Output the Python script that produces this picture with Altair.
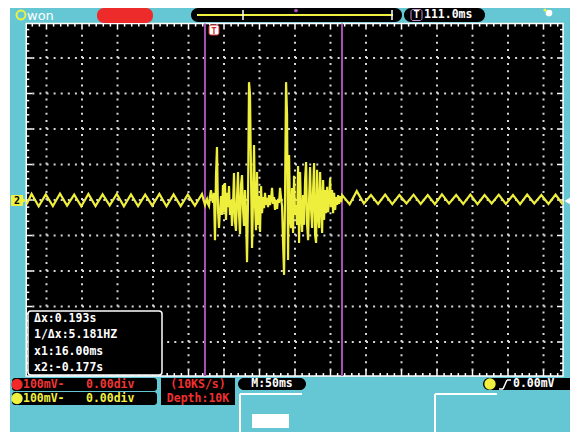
import altair as alt
import pandas as pd

# ---------------- values ----------------
# CH2 trace: time in ms (0 = centre of screen, 50 ms/div), voltage in mV (100 mV/div)
pre_t = [-378, -371, -361, -351, -341, -331, -321, -311, -301, -291, -281, -271, -261,
         -251, -241, -231, -221, -211, -201, -191, -181, -171, -161, -151, -141, -131]
pre_mv = [-12, 17, -18, 16, -17, 18, -16, 15, -18, 17, -17, 16, -15,
          17, -18, 16, -17, 15, -16, 17, -18, 16, -17, 15, -16, 17]

# the event between the two cursors, one displayed sample every 1.41 ms
burst_t0 = -126.8
burst_dt = 1.41
burst_mv = [
    -14, -3, 3, -11, -17, 11, 28, 6, -8, 20,
    -113, 68, 149, -28, -79, -28, 11, -42, 42, -34,
    48, -56, 20, -20, 39, -42, 0, -73, -14, 76,
    -62, -87, 6, 79, -39, -96, 42, 70, -25, -73,
    28, -39, -175, 0, 332, 296, 70, -135, 0, 155,
    -14, -85, 79, -70, 11, -90, 39, -37, 8, -23,
    20, -14, 6, -20, 14, -14, 3, 34, -11, 8,
    -28, 0, -25, 3, -8, 34, 6, -17, -121, -211,
    14, 332, 240, -169, 127, -51, -79, 34, -93, 68,
    -42, -14, -70, 96, -121, 79, -42, -90, 14, -70,
    56, 107, -68, -113, 0, 93, -28, -79, 28, 104,
    -99, -121, 85, -42, -79, 79, -14, -93, 56, -56,
    28, -37, 37, -34, 0, 62, -20, 28, -37, 20,
    -28, 8, -14, 14, -11, 11, -6, 14,
]

post_t = [77, 87, 97, 107, 117, 127, 137, 147, 157, 167, 177, 187, 197, 207, 217, 227,
          237, 247, 257, 267, 277, 287, 297, 307, 317, 327, 337, 347, 357, 367, 377]
post_mv = [-12, 25, -10, 14, -11, 15, -12, 14, -10, 15, -11, 14, -12, 16, -10, 14,
           -11, 15, -12, 14, -10, 15, -11, 14, -12, 15, -10, 14, -11, 15, -12]

cursor_t = [-126.8, 66.2]
grid_t = [-350, -300, -250, -200, -150, -100, -50, 0, 50, 100, 150, 200, 250, 300, 350]
grid_mv = [-400, -300, -200, -100, 0, 100, 200, 300, 400]

readout = ["Δx:0.193s", "1/Δx:5.181HZ", "x1:16.00ms", "x2:-0.177s"]
ch1_text = ["100mV-", "0.00div"]
ch2_text = ["100mV-", "0.00div"]
acq_text = ["(10KS/s)", "Depth:10K"]
timebase_text = "M:50ms"
trig_level_text = "0.00mV"
delay_text = "111.0ms"

# ---------------- layout / style ----------------
CYAN = "#64C7D3"
YELLOW = "#F0F040"
TRACE = "#EEEE3C"
RED = "#EE2B2B"
PURPLE = "#A650B8"
GRID = "#D6D6D6"
MONO = "DejaVu Sans Mono"

W, H = 562, 424
MS_PX = 50 / 35.5
MV_PX = 100 / 35.5
X_DOMAIN = [-287 * MS_PX, (W - 287) * MS_PX]
Y_DOMAIN = [-(H - 192) * MV_PX, 192 * MV_PX]
SCREEN_T = (-378.5, 377.5)
SCREEN_V = (-496.0, 497.0)

xs = alt.Scale(domain=X_DOMAIN, nice=False, zero=False)
ys = alt.Scale(domain=Y_DOMAIN, nice=False, zero=False)


def X(f):
    return alt.X(f, type="quantitative", scale=xs, axis=None)


def Y(f):
    return alt.Y(f, type="quantitative", scale=ys, axis=None)


one = pd.DataFrame({"k": [0]})


def box(x1, y1, x2, y2, fill, r=0, stroke=None, sw=1.0):
    kw = dict(fill=fill, cornerRadius=r)
    if stroke:
        kw.update(stroke=stroke, strokeWidth=sw)
    return alt.Chart(one).mark_rect(**kw).encode(
        x=alt.value(x1 - 8), x2=alt.value(x2 - 8), y=alt.value(y1 - 8), y2=alt.value(y2 - 8))


def outline(x1, y1, x2, y2, stroke, r=0, sw=1.0):
    return alt.Chart(one).mark_rect(fill="black", fillOpacity=0, stroke=stroke, strokeWidth=sw,
                                    cornerRadius=r).encode(
        x=alt.value(x1 - 8), x2=alt.value(x2 - 8), y=alt.value(y1 - 8), y2=alt.value(y2 - 8))


def seg(x1, y1, x2, y2, color, sw=1.5):
    return alt.Chart(one).mark_rule(color=color, strokeWidth=sw).encode(
        x=alt.value(x1 - 8), x2=alt.value(x2 - 8), y=alt.value(y1 - 8), y2=alt.value(y2 - 8))


def txt(s, x, y, color, size=11.5, align="left", weight="bold", font=MONO):
    return alt.Chart(one).mark_text(text=s, align=align, baseline="middle", font=font,
                                    fontSize=size, fontWeight=weight, color=color).encode(
        x=alt.value(x - 8), y=alt.value(y - 8))


def dot(x, y, color, size=120, shape="circle", filled=True, sw=1.0):
    kw = dict(shape=shape, size=size, opacity=1, filled=filled, color=color)
    if not filled:
        kw.update(strokeWidth=sw)
    return alt.Chart(one).mark_point(**kw).encode(x=alt.value(x - 8), y=alt.value(y - 8))


layers = []

# white strip at the far left
layers.append(box(8, 8, 10, 432, "white"))

# ---- screen ----
screen = pd.DataFrame({"t0": [SCREEN_T[0]], "t1": [SCREEN_T[1]], "v0": [SCREEN_V[0]], "v1": [SCREEN_V[1]]})
layers.append(alt.Chart(screen).mark_rect(color="black").encode(
    x=X("t0"), x2="t1", y=Y("v0"), y2="v1"))

# dotted graticule
gv = pd.DataFrame({"t": grid_t, "a": -480, "b": 480})
layers.append(alt.Chart(gv).mark_rule(color=GRID, strokeWidth=2, strokeDash=[2, 5.1]).encode(
    x=X("t"), y=Y("a"), y2="b"))
gh = pd.DataFrame({"v": grid_mv, "a": -370, "b": 370})
layers.append(alt.Chart(gh).mark_rule(color=GRID, strokeWidth=2, strokeDash=[2, 5.1]).encode(
    y=Y("v"), x=X("a"), x2="b"))

# edge ticks
minor_t = list(range(-370, 371, 10))
minor_v = list(range(-480, 481, 20))


def tl(val, major):
    return 6 if val % major == 0 else 3


top = pd.DataFrame({"t": minor_t, "a": SCREEN_V[1],
                    "b": [SCREEN_V[1] - tl(t, 50) * MV_PX for t in minor_t]})
bot = pd.DataFrame({"t": minor_t, "a": SCREEN_V[0],
                    "b": [SCREEN_V[0] + tl(t, 50) * MV_PX for t in minor_t]})
lef = pd.DataFrame({"v": minor_v, "a": SCREEN_T[0],
                    "b": [SCREEN_T[0] + tl(v, 100) * MS_PX for v in minor_v]})
rig = pd.DataFrame({"v": minor_v, "a": SCREEN_T[1],
                    "b": [SCREEN_T[1] - tl(v, 100) * MS_PX for v in minor_v]})
for d in (top, bot):
    layers.append(alt.Chart(d).mark_rule(color="white", strokeWidth=1.5).encode(
        x=X("t"), y=Y("a"), y2="b"))
for d in (lef, rig):
    layers.append(alt.Chart(d).mark_rule(color="white", strokeWidth=1.5).encode(
        y=Y("v"), x=X("a"), x2="b"))

# screen border
layers.append(alt.Chart(screen).mark_rect(fill="black", fillOpacity=0, stroke="white", strokeWidth=1.5).encode(
    x=X("t0"), x2="t1", y=Y("v0"), y2="v1"))

# cursors
cur = pd.DataFrame({"t": cursor_t, "a": SCREEN_V[0], "b": SCREEN_V[1]})
layers.append(alt.Chart(cur).mark_rule(color=PURPLE, strokeWidth=2).encode(
    x=X("t"), y=Y("a"), y2="b"))

# waveform
burst_t = [round(burst_t0 + i * burst_dt, 2) for i in range(len(burst_mv))]
wave = pd.DataFrame({"t": pre_t + burst_t + post_t, "mv": pre_mv + burst_mv + post_mv})
layers.append(alt.Chart(wave).mark_line(color=TRACE, strokeWidth=2.2, strokeJoin="miter").encode(
    x=X("t"), y=Y("mv")))

# trigger-position marker on the top of the screen
layers.append(box(209, 25, 219, 35, "white", r=2, stroke="#D03030", sw=1))
layers.append(txt("T", 214, 30.5, "#D03030", size=9, align="center"))

# cursor read-out box
layers.append(box(28, 311, 162, 375, "black", r=3, stroke="white", sw=1.5))
for i, s in enumerate(readout):
    layers.append(txt(s, 34, [319, 335, 352, 368][i], "white"))

# ---- top bar ----
layers.append(dot(21, 15, YELLOW, size=80, filled=False, sw=2))
layers.append(txt("won", 27, 16, "white", size=13, weight="normal", font="DejaVu Sans"))
layers.append(box(97, 8, 153, 23, RED, r=7))
layers.append(box(191, 8, 402, 22, "black", r=7))
layers.append(seg(197, 15, 393, 15, YELLOW, 2))
layers.append(seg(243, 10, 243, 20, "white", 1.5))
layers.append(seg(392, 10, 392, 20, "white", 1.5))
layers.append(dot(296, 10.5, PURPLE, size=14))
layers.append(box(404, 8, 485, 22, "black", r=7))
layers.append(outline(411, 9.5, 422, 20.5, "#C98AD8", r=2, sw=1))
layers.append(txt("T", 416.5, 15, "white", size=10, align="center"))
layers.append(txt(delay_text, 424, 15, "white"))
layers.append(dot(549, 13, "white", size=45))
layers.append(dot(545, 10, YELLOW, size=10))

# ---- bottom bar ----
layers.append(box(12, 378, 157, 391, "black", r=3))
layers.append(dot(17, 384.5, "#F02A2A", size=130))
layers.append(txt(ch1_text[0], 23, 384.5, "#F03535"))
layers.append(txt(ch1_text[1], 86, 384.5, "#F03535"))
layers.append(box(12, 392, 157, 405, "black", r=3))
layers.append(dot(17, 398.5, YELLOW, size=130))
layers.append(txt(ch2_text[0], 23, 398.5, YELLOW))
layers.append(txt(ch2_text[1], 86, 398.5, YELLOW))

layers.append(box(161, 378, 235, 405, "black"))
layers.append(txt(acq_text[0], 198, 384.5, "#F03030", align="center"))
layers.append(txt(acq_text[1], 198, 398.5, "#F03030", align="center"))

layers.append(box(238, 378, 306, 390, "black", r=6))
layers.append(txt(timebase_text, 272, 384, "white", align="center"))

layers.append(seg(240, 394, 302, 394, "white", 2))
layers.append(seg(240, 394, 240, 432, "white", 2))
layers.append(box(252, 414, 289, 428, "white"))
layers.append(seg(435, 394, 497, 394, "white", 2))
layers.append(seg(435, 394, 435, 432, "white", 2))

layers.append(box(483, 378, 576, 390, "black", r=6))
layers.append(dot(490, 384, YELLOW, size=130))
layers.append(seg(499, 389, 503, 389, "white", 1.5))
layers.append(seg(503, 389, 507, 380, "white", 1.5))
layers.append(seg(507, 380, 511, 380, "white", 1.5))
layers.append(txt(trig_level_text, 513, 384, "white"))

# channel 2 ground marker and trigger-level arrow
layers.append(box(11, 195, 23, 206, YELLOW, r=1))
layers.append(txt("2", 17, 200.5, "black", size=10, align="center"))
layers.append(dot(24.5, 200.5, YELLOW, size=20, shape="triangle-right"))
layers.append(dot(568, 201, "white", size=70, shape="triangle-left"))

chart = alt.layer(*layers).properties(
    width=W, height=H, background=CYAN, padding=0,
    autosize=alt.AutoSizeParams(type="none"),
).configure_view(stroke=None)

chart.save("out.html", embed_options={"renderer": "svg", "actions": False})
